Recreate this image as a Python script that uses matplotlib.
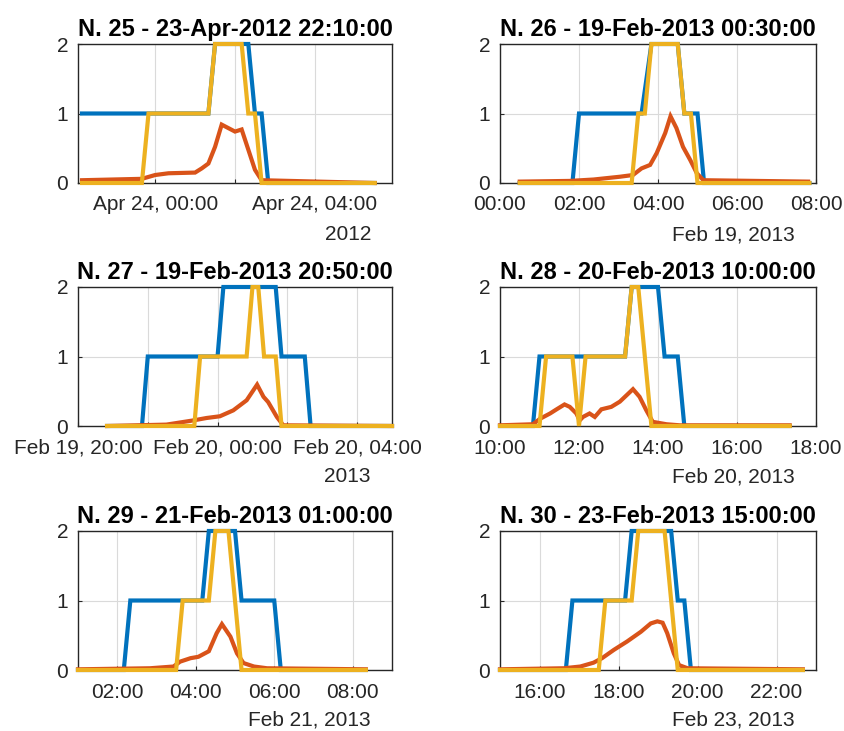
import matplotlib
matplotlib.use("Agg")
import matplotlib.pyplot as plt
import matplotlib.dates as mdates
from datetime import datetime, timedelta

plt.rcParams['font.family'] = ['Liberation Sans', 'DejaVu Sans']

# titoli e istanti di partenza di ogni evento
titles = ["N. 25 - 23-Apr-2012 22:10:00", "N. 26 - 19-Feb-2013 00:30:00",
          "N. 27 - 19-Feb-2013 20:50:00", "N. 28 - 20-Feb-2013 10:00:00",
          "N. 29 - 21-Feb-2013 01:00:00", "N. 30 - 23-Feb-2013 15:00:00"]
starts = ["2012-04-23 22:10", "2013-02-19 00:30", "2013-02-19 20:50",
          "2013-02-20 10:00", "2013-02-21 01:00", "2013-02-23 15:00"]
xlims = [("2012-04-23 22:04", "2012-04-24 05:56"), ("2013-02-19 00:00", "2013-02-19 08:00"),
         ("2013-02-19 20:00", "2013-02-20 05:00"), ("2013-02-20 10:00", "2013-02-20 18:00"),
         ("2013-02-21 01:00", "2013-02-21 09:00"), ("2013-02-23 15:00", "2013-02-23 23:00")]
xticks = [["2012-04-24 00:00", "2012-04-24 02:00", "2012-04-24 04:00"],
          ["2013-02-19 00:00", "2013-02-19 02:00", "2013-02-19 04:00", "2013-02-19 06:00", "2013-02-19 08:00"],
          ["2013-02-19 20:00", "2013-02-19 22:00", "2013-02-20 00:00", "2013-02-20 02:00", "2013-02-20 04:00"],
          ["2013-02-20 10:00", "2013-02-20 12:00", "2013-02-20 14:00", "2013-02-20 16:00", "2013-02-20 18:00"],
          ["2013-02-21 02:00", "2013-02-21 04:00", "2013-02-21 06:00", "2013-02-21 08:00"],
          ["2013-02-23 16:00", "2013-02-23 18:00", "2013-02-23 20:00", "2013-02-23 22:00"]]
xticklabels = [["Apr 24, 00:00", "", "Apr 24, 04:00"],
               ["00:00", "02:00", "04:00", "06:00", "08:00"],
               ["Feb 19, 20:00", "", "Feb 20, 00:00", "", "Feb 20, 04:00"],
               ["10:00", "12:00", "14:00", "16:00", "18:00"],
               ["02:00", "04:00", "06:00", "08:00"],
               ["16:00", "18:00", "20:00", "22:00"]]
date_labels = ["2012", "Feb 19, 2013", "2013", "Feb 20, 2013", "Feb 21, 2013", "Feb 23, 2013"]

# serie: minuti dall'inizio e valori
blue_t = [[0, 100, 190, 200, 250, 260, 270, 280, 440],
          [0, 80, 90, 185, 200, 240, 250, 270, 280, 440],
          [0, 60, 70, 190, 200, 290, 300, 340, 350, 490],
          [0, 50, 60, 190, 200, 240, 250, 270, 280, 440],
          [0, 70, 80, 190, 200, 240, 250, 300, 310, 440],
          [0, 100, 110, 190, 200, 260, 270, 280, 290, 460]]
blue_v = [[1, 1, 1, 2, 2, 1, 1, 0, 0],
          [0, 0, 1, 1, 2, 2, 1, 1, 0, 0],
          [0, 0, 1, 1, 2, 2, 1, 1, 0, 0],
          [0, 0, 1, 1, 2, 2, 1, 1, 0, 0],
          [0, 0, 1, 1, 2, 2, 1, 1, 0, 0],
          [0, 0, 1, 1, 2, 2, 1, 1, 0, 0]]
red_t = [[0, 90, 110, 130, 170, 180, 190, 200, 210, 220, 230, 240, 250, 260, 270, 440],
         [0, 76, 112, 132, 152, 172, 185, 198, 208, 221, 229, 238, 248, 259, 269, 279, 438],
         [0, 102, 125, 148, 171, 194, 217, 240, 258, 269, 277, 292, 303, 490],
         [0, 50, 61, 76, 86, 98, 106, 116, 121, 126, 136, 144, 154, 169, 182, 192, 202, 212, 222, 232, 253, 273, 440],
         [0, 110, 146, 156, 172, 184, 200, 212, 220, 233, 243, 253, 269, 289, 440],
         [0, 97, 122, 142, 155, 173, 193, 214, 229, 239, 247, 254, 264, 272, 285, 460]]
red_v = [[0.04, 0.06, 0.115, 0.14, 0.15, 0.21, 0.28, 0.52, 0.84, 0.79, 0.74, 0.77, 0.48, 0.19, 0.04, 0.0],
         [0.02, 0.03, 0.05, 0.07, 0.09, 0.115, 0.21, 0.26, 0.43, 0.72, 0.96, 0.79, 0.52, 0.33, 0.14, 0.04, 0.02],
         [0.0, 0.02, 0.05, 0.08, 0.115, 0.14, 0.225, 0.37, 0.595, 0.42, 0.345, 0.13, 0.01, 0.0],
         [0.01, 0.025, 0.105, 0.18, 0.24, 0.31, 0.275, 0.18, 0.08, 0.13, 0.18, 0.13, 0.24, 0.275, 0.35, 0.44,
          0.53, 0.42, 0.23, 0.06, 0.025, 0.01, 0.01],
         [0.01, 0.025, 0.05, 0.12, 0.17, 0.19, 0.27, 0.53, 0.66, 0.48, 0.24, 0.1, 0.05, 0.025, 0.01],
         [0.01, 0.025, 0.05, 0.105, 0.17, 0.29, 0.41, 0.55, 0.67, 0.70, 0.68, 0.53, 0.24, 0.07, 0.025, 0.01]]
yel_t = [[0, 90, 100, 190, 200, 240, 250, 260, 270, 440],
         [0, 170, 180, 190, 200, 240, 250, 260, 270, 440],
         [0, 150, 160, 240, 250, 260, 270, 290, 300, 490],
         [0, 60, 70, 110, 120, 130, 190, 200, 210, 230, 440],
         [0, 150, 160, 200, 210, 230, 250, 440],
         [0, 150, 160, 200, 210, 250, 270, 460]]
yel_v = [[0, 0, 1, 1, 2, 2, 1, 1, 0, 0],
         [0, 0, 1, 1, 2, 2, 1, 1, 0, 0],
         [0, 0, 1, 1, 2, 2, 1, 1, 0, 0],
         [0, 0, 1, 1, 0, 1, 1, 2, 2, 0, 0],
         [0, 0, 1, 1, 2, 2, 0, 0],
         [0, 0, 1, 1, 2, 2, 0, 0]]

W, H = 845, 731
# posizioni assi in pixel (sinistra, alto, destra, basso)
cols = [(78, 392), (500, 816)]
rows = [(44, 183), (287, 426), (531, 670)]
date_off = [52, 52, 50, 51, 50, 50]

fmt = "%Y-%m-%d %H:%M"
fig = plt.figure(figsize=(W / 100, H / 100), dpi=100)

for i in range(6):
    l, r = cols[i % 2]
    t, b = rows[i // 2]
    ax = fig.add_axes([l / W, 1 - b / H, (r - l) / W, (b - t) / H])
    t0 = datetime.strptime(starts[i], fmt)
    for tt, vv, c in [(blue_t[i], blue_v[i], '#0072BD'),
                      (red_t[i], red_v[i], '#D95319'),
                      (yel_t[i], yel_v[i], '#EDB120')]:
        x = [mdates.date2num(t0 + timedelta(minutes=m)) for m in tt]
        ax.plot(x, vv, color=c, lw=3.0, clip_on=False, zorder=3, solid_joinstyle='miter')
    ax.set_xlim(mdates.date2num(datetime.strptime(xlims[i][0], fmt)),
                mdates.date2num(datetime.strptime(xlims[i][1], fmt)))
    ax.set_ylim(0, 2)
    ax.set_yticks([0, 1, 2])
    ax.set_xticks([mdates.date2num(datetime.strptime(s, fmt)) for s in xticks[i]])
    ax.set_xticklabels(xticklabels[i])
    ax.grid(True, color='#dadada', lw=0.8)
    ax.set_axisbelow(True)
    ax.tick_params(direction='in', length=3, width=0.8, labelsize=15, colors='#262626')
    ax.tick_params(axis='x', pad=9)
    ax.tick_params(axis='y', pad=7)
    for s in ax.spines.values():
        s.set_color('#262626')
        s.set_linewidth(1.0)
    ax.set_title(titles[i], fontsize=17, fontweight='bold', pad=6)
    fig.text((r - 21) / W, 1 - (b + date_off[i]) / H, date_labels[i], ha='right', va='center',
             fontsize=15, color='#262626')

fig.savefig("out.png", dpi=100)
